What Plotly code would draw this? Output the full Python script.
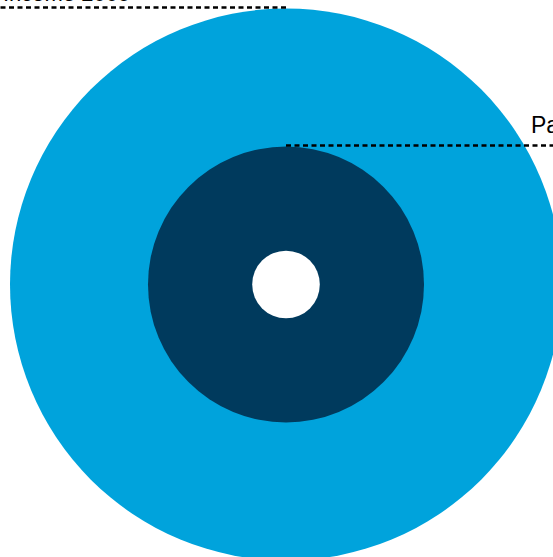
import math
import plotly.graph_objects as go

# Data
labels = ["Income 2005", "Part", "Core"]
values = [100.0, 25.0, 1.5]
colors = ["#00a3dc", "#003a5d", "#ffffff"]

W, H = 553, 557
cx, cy = 286, 284.5
scale = 27.6

fig = go.Figure()
shapes = []
radii = [scale * math.sqrt(v) for v in values]
for r, c in zip(radii, colors):
    shapes.append(dict(type="circle", xref="x", yref="y",
                       x0=cx - r, x1=cx + r, y0=cy - r, y1=cy + r,
                       fillcolor=c, line=dict(width=0), layer="above"))

# leader lines
r0, r1 = radii[0], radii[1]
ly0 = cy - r0 - 1
ly1 = cy - r1 - 1
shapes.append(dict(type="line", xref="x", yref="y", x0=cx, x1=-200, y0=ly0, y1=ly0,
                   line=dict(color="black", width=2.4, dash="5px,3.5px")))
shapes.append(dict(type="line", xref="x", yref="y", x0=cx, x1=800, y0=ly1, y1=ly1,
                   line=dict(color="black", width=2.4, dash="5px,3.5px")))

annotations = [
    dict(x=1, y=ly0 + 0.5, xref="x", yref="y", text=labels[0], showarrow=False,
         xanchor="left", yanchor="bottom", font=dict(size=22, color="black")),
    dict(x=529, y=ly1 - 6, xref="x", yref="y", text=labels[1], showarrow=False,
         xanchor="left", yanchor="bottom", font=dict(size=23, color="black")),
]

fig.add_trace(go.Scatter(x=[cx], y=[cy], mode="markers", marker=dict(opacity=0), hoverinfo="skip"))
fig.update_layout(
    width=W, height=H, margin=dict(l=0, r=0, t=0, b=0),
    paper_bgcolor="white", plot_bgcolor="white",
    showlegend=False,
    font=dict(family="Liberation Sans, Arial, sans-serif"),
    xaxis=dict(range=[0, W], visible=False, fixedrange=True),
    yaxis=dict(range=[H, 0], visible=False, fixedrange=True),
    shapes=shapes, annotations=annotations,
)
fig.write_html("out.html", config={"displayModeBar": False},
               post_script="document.body.style.margin='0';document.body.style.overflow='hidden';")
